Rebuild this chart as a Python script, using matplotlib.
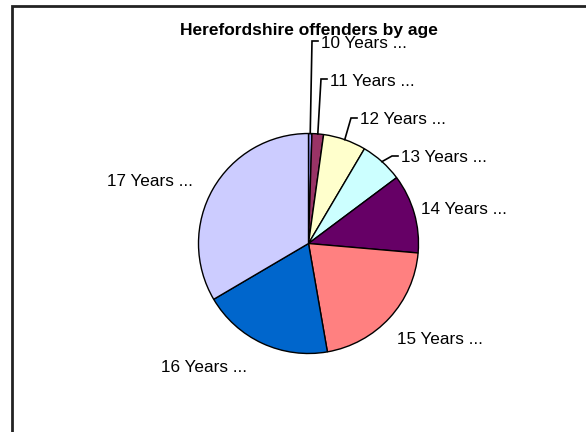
import numpy as np
import matplotlib
matplotlib.use("Agg")
import matplotlib.pyplot as plt

title = "Herefordshire offenders by age"
categories = ["10 Years ...", "11 Years ...", "12 Years ...", "13 Years ...",
              "14 Years ...", "15 Years ...", "16 Years ...", "17 Years ..."]
values = [0.5, 1.7, 6.3, 6.3, 11.6, 20.9, 19.3, 33.5]
colors = ["#9999FF", "#993366", "#FFFFCC", "#CCFFFF",
          "#660066", "#FF8080", "#0066CC", "#CCCCFF"]

W, H = 586, 432
fig = plt.figure(figsize=(W / 100, H / 100), dpi=100)
ax = fig.add_axes([0, 0, 1, 1])

def Y(y):
    return H - y

cx, cy, R = 308.5, 243.5, 110
wedges, _ = ax.pie(values, colors=colors, startangle=90, counterclock=False,
                   center=(cx, Y(cy)), radius=R,
                   wedgeprops=dict(edgecolor="black", linewidth=1.0))
ax.set_xlim(0, W)
ax.set_ylim(0, H)
ax.set_aspect("equal")
ax.axis("off")

font = "Liberation Sans"
# label text left/centre positions (pixels) and whether a leader line is drawn
label_pos = [(321, 43, True), (330, 81, True), (360, 120, True), (401, 158, True),
             (421, 210, False), (397, 339, False), (161, 367, False), (107, 182, False)]

for w, lab, (tx, ty, leader) in zip(wedges, categories, label_pos):
    if leader:
        mid = np.deg2rad((w.theta1 + w.theta2) / 2)
        ex = cx + R * np.cos(mid)
        ey = Y(cy) + R * np.sin(mid)
        kx = tx - 9
        ax.plot([ex, kx, tx - 3], [ey, Y(ty) + 2, Y(ty) + 2], color="black", lw=1.2,
                solid_joinstyle="miter")
    ax.text(tx, Y(ty), lab, ha="left", va="center", fontsize=12.3,
            family=font, color="black")

ax.text(309, Y(30), title, ha="center", va="center", fontsize=12.5,
        fontweight="bold", family=font, color="black")

# outer frame
ax.plot([11.5, 11.5, W + 5], [-5, Y(5.5), Y(5.5)], color="#222222", lw=2,
        clip_on=False, solid_joinstyle="miter")

fig.savefig("out.png", dpi=100)
